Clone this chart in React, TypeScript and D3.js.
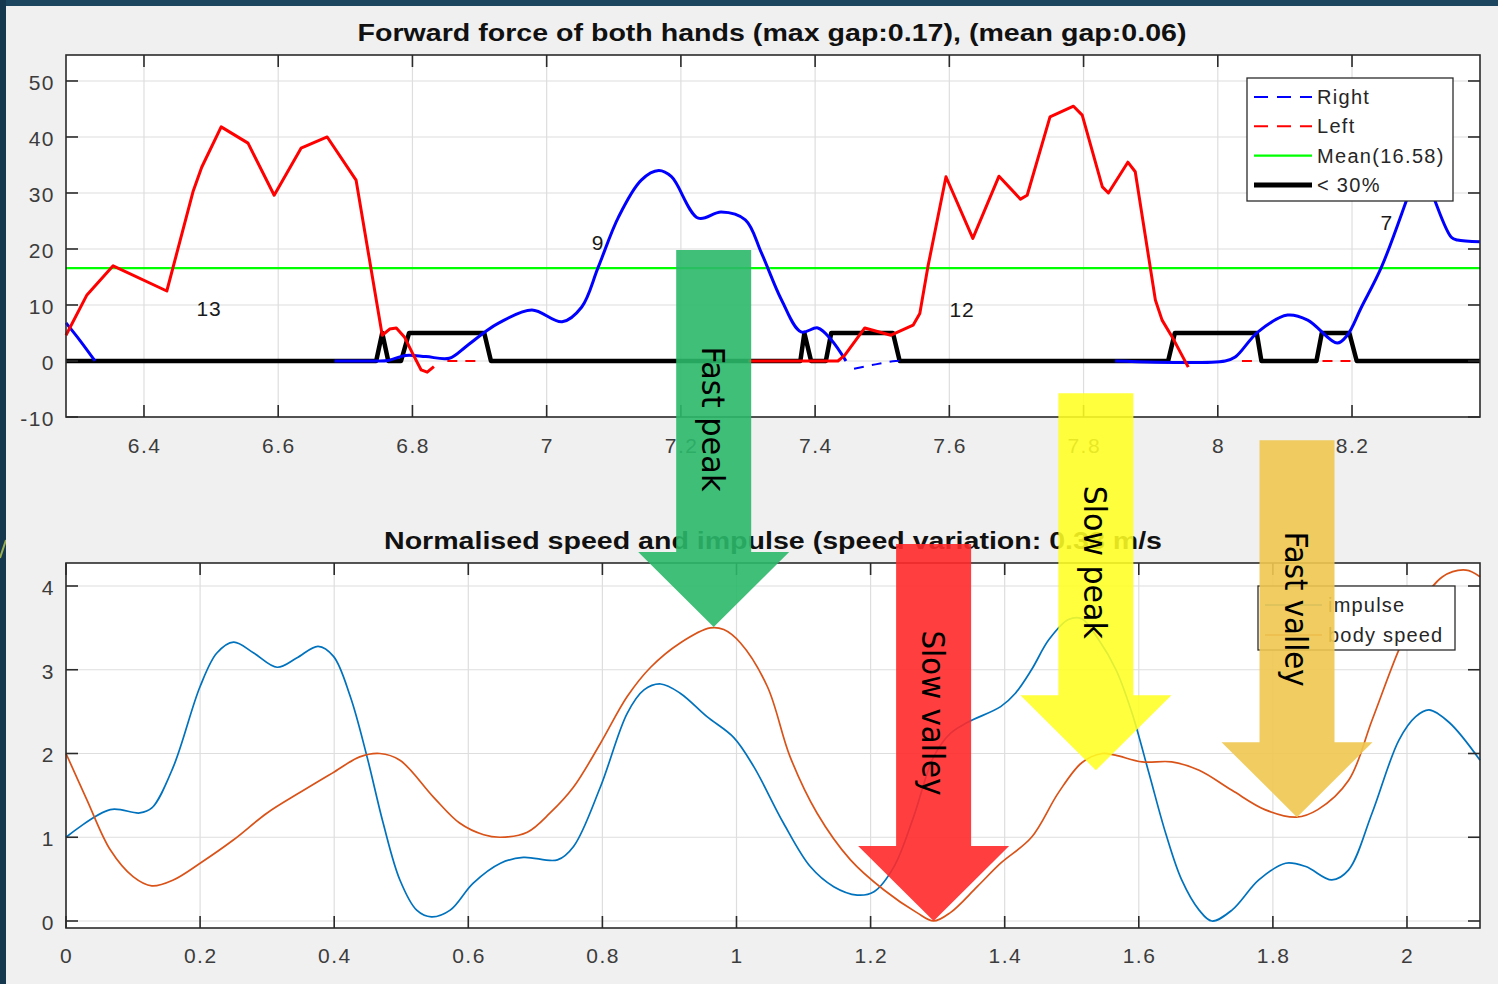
import React from 'react';
import * as d3 from 'd3';

type Pt = [number, number];

// ---------- Upper panel: forward force (N) vs time (s) ----------
const TOP_X_DOMAIN: Pt = [6.2838, 8.3907];
const TOP_Y_DOMAIN: Pt = [-10, 54.64];
const TOP_X_TICKS = [6.4, 6.6, 6.8, 7, 7.2, 7.4, 7.6, 7.8, 8, 8.2];
const TOP_Y_TICKS = [-10, 0, 10, 20, 30, 40, 50];
const MEAN_FORCE = 16.58;

// Right hand, solid stretches
const rightA: Pt[] = [[6.2838, 6.8], [6.305, 3.6], [6.327, 0]];
const rightB: Pt[] = [
  [6.684, 0], [6.746, 0], [6.764, 0.1], [6.79, 1], [6.82, 0.8], [6.855, 0.5], [6.88, 2.6],
  [6.907, 5.1], [6.929, 6.8], [6.978, 9.1], [7.023, 7], [7.052, 9.6], [7.077, 16.8],
  [7.107, 25.7], [7.141, 32.3], [7.167, 34], [7.186, 32.9], [7.226, 25.5], [7.26, 26.6],
  [7.296, 25.2], [7.32, 19.3], [7.35, 10.9], [7.379, 5.2], [7.404, 5.9], [7.424, 3.8], [7.446, 0],
];
const rightC: Pt[] = [
  [7.847, 0], [8.011, 0], [8.026, 0.7], [8.06, 5.2], [8.104, 8.2], [8.134, 7.3], [8.178, 3.2],
  [8.193, 4.6], [8.214, 9.6], [8.244, 16.8], [8.283, 29.3], [8.303, 36], [8.323, 28.8],
  [8.348, 22.1], [8.357, 21.6], [8.3907, 21.3],
];
// Right hand, dashed stretch
const rightDash: Pt[] = [[7.458, -1.4], [7.49, -0.6], [7.52, 0], [7.535, 0]];

// Left hand, solid stretches
const leftA: Pt[] = [
  [6.2838, 4.6], [6.315, 11.8], [6.354, 17], [6.434, 12.5], [6.473, 30.2], [6.486, 34.6],
  [6.515, 41.8], [6.555, 38.9], [6.594, 29.6], [6.634, 38], [6.673, 40], [6.716, 32.3],
  [6.755, 4.6], [6.766, 5.7], [6.776, 5.9], [6.788, 4.3], [6.8, 1.4], [6.813, -1.6],
  [6.822, -2], [6.832, -1],
];
const leftB: Pt[] = [
  [7.3, 0], [7.434, 0], [7.444, 1], [7.474, 5.9], [7.513, 4.6], [7.546, 6.4], [7.556, 8.5],
  [7.568, 16.8], [7.595, 32.9], [7.635, 21.9], [7.674, 33], [7.706, 28.9], [7.716, 29.6],
  [7.75, 43.6], [7.785, 45.5], [7.798, 43.9], [7.828, 31.1], [7.837, 30], [7.866, 35.5],
  [7.877, 33.8], [7.907, 10.9], [7.917, 7.3], [7.932, 4.3], [7.956, -1.1],
];
// Left hand, dashed stretches
const leftDashes: Pt[][] = [
  [[6.852, 0], [6.895, 0]],
  [[8.036, 0], [8.06, 0]],
  [[8.156, 0], [8.2, 0]],
];

// Below-30% indicator
const lowForce: Pt[] = [
  [6.2838, 0], [6.746, 0], [6.755, 5], [6.764, 0], [6.783, 0], [6.795, 5], [6.907, 5],
  [6.917, 0], [7.378, 0], [7.384, 5], [7.394, 0], [7.416, 0], [7.424, 5], [7.516, 5],
  [7.526, 0], [7.926, 0], [7.936, 5], [8.058, 5], [8.065, 0], [8.147, 0], [8.155, 5],
  [8.196, 5], [8.207, 0], [8.3907, 0],
];

// Stroke counts written beside each push
const strokeLabels = ['13', '9', '12', '7'];
const strokeLabelAt: Pt[] = [[6.497, 8.0], [7.0765, 19.8], [7.619, 7.86], [8.252, 23.4]];

// ---------- Lower panel: normalised speed and impulse ----------
const BOT_X_DOMAIN: Pt = [0, 2.1089];
const BOT_Y_DOMAIN: Pt = [-0.0836, 4.2746];
const BOT_X_TICKS = [0, 0.2, 0.4, 0.6, 0.8, 1, 1.2, 1.4, 1.6, 1.8, 2];
const BOT_Y_TICKS = [0, 1, 2, 3, 4];

const impulse: Pt[] = [
  [0, 1.0], [0.066, 1.33], [0.11, 1.29], [0.128, 1.35], [0.16, 1.84], [0.2, 2.8], [0.225, 3.2],
  [0.25, 3.33], [0.28, 3.2], [0.315, 3.03], [0.344, 3.14], [0.376, 3.28], [0.399, 3.16],
  [0.424, 2.68], [0.449, 1.96], [0.473, 1.17], [0.498, 0.49], [0.523, 0.13], [0.545, 0.05],
  [0.573, 0.13], [0.607, 0.45], [0.648, 0.69], [0.682, 0.76], [0.733, 0.73], [0.757, 0.89],
  [0.797, 1.6], [0.837, 2.48], [0.862, 2.76], [0.887, 2.83], [0.916, 2.72], [0.956, 2.44],
  [0.996, 2.19], [1.026, 1.84], [1.07, 1.17], [1.11, 0.65], [1.145, 0.41], [1.18, 0.31],
  [1.205, 0.35], [1.235, 0.65], [1.264, 1.24], [1.294, 1.96], [1.319, 2.24], [1.344, 2.37],
  [1.394, 2.56], [1.416, 2.72], [1.44, 3.0], [1.466, 3.36], [1.495, 3.6], [1.515, 3.61],
  [1.54, 3.36], [1.566, 3.0], [1.59, 2.48], [1.615, 1.77], [1.64, 1.05], [1.664, 0.49],
  [1.69, 0.13], [1.709, 0.0], [1.739, 0.13], [1.779, 0.49], [1.819, 0.69], [1.849, 0.65],
  [1.888, 0.49], [1.913, 0.61], [1.948, 1.29], [1.988, 2.16], [2.013, 2.44], [2.033, 2.52],
  [2.063, 2.37], [2.1089, 1.92],
];

const bodySpeed: Pt[] = [
  [0, 2.0], [0.031, 1.45], [0.066, 0.85], [0.1, 0.53], [0.128, 0.42], [0.16, 0.49], [0.2, 0.69],
  [0.25, 0.97], [0.3, 1.29], [0.35, 1.54], [0.4, 1.78], [0.438, 1.96], [0.468, 2.0],
  [0.498, 1.92], [0.548, 1.48], [0.587, 1.17], [0.623, 1.03], [0.648, 1.0], [0.688, 1.06],
  [0.722, 1.29], [0.757, 1.6], [0.797, 2.12], [0.837, 2.68], [0.872, 3.03], [0.916, 3.32],
  [0.961, 3.5], [0.981, 3.48], [1.006, 3.32], [1.046, 2.8], [1.08, 1.96], [1.12, 1.29],
  [1.17, 0.73], [1.22, 0.37], [1.269, 0.1], [1.294, 0.0], [1.319, 0.1], [1.359, 0.41],
  [1.394, 0.69], [1.44, 1.0], [1.48, 1.53], [1.515, 1.89], [1.545, 2.0], [1.565, 1.98],
  [1.605, 1.9], [1.649, 1.9], [1.69, 1.8], [1.739, 1.56], [1.788, 1.33], [1.835, 1.24],
  [1.867, 1.33], [1.913, 1.68], [1.948, 2.4], [1.988, 3.24], [2.018, 3.75], [2.053, 4.11],
  [2.088, 4.19], [2.1089, 4.11],
];

// Callouts pointing at features of the speed curve
const calloutLabels = ['Fast peak', 'Slow valley', 'Slow peak', 'Fast valley'];
const calloutTips: Pt[] = [[0.966, 3.51], [1.294, 0.0], [1.536, 1.8], [1.836, 1.24]];

// ---------- styling ----------
const FONT = "'Liberation Sans', Arial, Helvetica, sans-serif";
const CALLOUT_FONT = "'DejaVu Sans', 'Liberation Sans', sans-serif";
const AXIS_COLOR = '#2b2b2b';
const GRID_COLOR = '#dedede';
const TICK_TEXT = '#3c3c3c';
const calloutFill = ['#2bb86a', '#ff2a2a', '#ffff22', '#f0c850'];
const calloutOpacity = [0.9, 0.9, 0.88, 0.9];
const calloutTextLen = [145, 165, 153, 155];

const W = 1498;
const H = 984;

interface AxesProps {
  x: d3.ScaleLinear<number, number>;
  y: d3.ScaleLinear<number, number>;
  xTicks: number[];
  yTicks: number[];
  xLabelBaseline: number;
}

// White plot area with light grid
function AxesFrame({ x, y, xTicks, yTicks }: AxesProps) {
  const [x0, x1] = x.range();
  const [y0, y1] = y.range(); // y0 bottom, y1 top
  return (
    <g>
      <rect x={x0} y={y1} width={x1 - x0} height={y0 - y1} fill="#ffffff" />
      {xTicks.map((t) => (
        <line key={'gx' + t} x1={x(t)} x2={x(t)} y1={y1} y2={y0} stroke={GRID_COLOR} strokeWidth={1.2} />
      ))}
      {yTicks.map((t) => (
        <line key={'gy' + t} x1={x0} x2={x1} y1={y(t)} y2={y(t)} stroke={GRID_COLOR} strokeWidth={1.2} />
      ))}
    </g>
  );
}

// Box outline with inward ticks on all four sides, plus tick labels
function AxesBorder({ x, y, xTicks, yTicks, xLabelBaseline }: AxesProps) {
  const [x0, x1] = x.range();
  const [y0, y1] = y.range();
  const tl = 12;
  return (
    <g>
      <rect x={x0} y={y1} width={x1 - x0} height={y0 - y1} fill="none" stroke={AXIS_COLOR} strokeWidth={1.6} />
      {xTicks.map((t) => (
        <g key={'tx' + t}>
          <line x1={x(t)} x2={x(t)} y1={y0} y2={y0 - tl} stroke={AXIS_COLOR} strokeWidth={1.6} />
          <line x1={x(t)} x2={x(t)} y1={y1} y2={y1 + tl} stroke={AXIS_COLOR} strokeWidth={1.6} />
          <text
            x={x(t) + 0.7}
            y={xLabelBaseline}
            textAnchor="middle"
            fontFamily={FONT}
            fontSize={21}
            letterSpacing={1.5}
            fill={TICK_TEXT}
          >
            {String(t)}
          </text>
        </g>
      ))}
      {yTicks.map((t) => (
        <g key={'ty' + t}>
          <line x1={x0} x2={x0 + tl} y1={y(t)} y2={y(t)} stroke={AXIS_COLOR} strokeWidth={1.6} />
          <line x1={x1} x2={x1 - tl} y1={y(t)} y2={y(t)} stroke={AXIS_COLOR} strokeWidth={1.6} />
          <text
            x={x0 - 11}
            y={y(t) + 9}
            textAnchor="end"
            fontFamily={FONT}
            fontSize={21}
            letterSpacing={1.5}
            fill={TICK_TEXT}
          >
            {String(t)}
          </text>
        </g>
      ))}
    </g>
  );
}

export default function App() {
  // scales
  const xTop = d3.scaleLinear().domain(TOP_X_DOMAIN).range([66, 1480]);
  const yTop = d3.scaleLinear().domain(TOP_Y_DOMAIN).range([417, 55]);
  const xBot = d3.scaleLinear().domain(BOT_X_DOMAIN).range([66, 1480]);
  const yBot = d3.scaleLinear().domain(BOT_Y_DOMAIN).range([928, 563]);

  const topLinear = d3.line<Pt>().x((d) => xTop(d[0])).y((d) => yTop(d[1])).curve(d3.curveLinear);
  const topSmooth = d3
    .line<Pt>()
    .x((d) => xTop(d[0]))
    .y((d) => yTop(d[1]))
    .curve(d3.curveCatmullRom.alpha(0.5));
  const botSmooth = d3
    .line<Pt>()
    .x((d) => xBot(d[0]))
    .y((d) => yBot(d[1]))
    .curve(d3.curveCatmullRom.alpha(0.5));

  const dash = '14,9';

  // callout arrow geometry (pixels)
  const ARROW_LEN = 377;
  const SHAFT_W = 75;
  const HEAD_W = 151;
  const HEAD_LEN = 75;
  const LABEL_UP = 208;

  const arrowPath = (tx: number, ty: number) => {
    const p = d3.path();
    p.moveTo(tx - SHAFT_W / 2, ty - ARROW_LEN);
    p.lineTo(tx + SHAFT_W / 2, ty - ARROW_LEN);
    p.lineTo(tx + SHAFT_W / 2, ty - HEAD_LEN);
    p.lineTo(tx + HEAD_W / 2, ty - HEAD_LEN);
    p.lineTo(tx, ty);
    p.lineTo(tx - HEAD_W / 2, ty - HEAD_LEN);
    p.lineTo(tx - SHAFT_W / 2, ty - HEAD_LEN);
    p.closePath();
    return p.toString();
  };

  const topLegend = [
    { label: 'Right', color: '#0000ff', width: 2, dash },
    { label: 'Left', color: '#ff0000', width: 2, dash },
    { label: 'Mean(' + MEAN_FORCE.toFixed(2) + ')', color: '#00ff00', width: 2.2, dash: undefined },
    { label: '< 30%', color: '#000000', width: 5, dash: undefined },
  ];
  const botLegend = [
    { label: 'impulse', color: '#0072bd' },
    { label: 'body speed', color: '#d95319' },
  ];

  const topProps = { x: xTop, y: yTop, xTicks: TOP_X_TICKS, yTicks: TOP_Y_TICKS, xLabelBaseline: 453 };
  const botProps = { x: xBot, y: yBot, xTicks: BOT_X_TICKS, yTicks: BOT_Y_TICKS, xLabelBaseline: 963 };

  return (
    <svg
      width={W}
      height={H}
      viewBox={`0 0 ${W} ${H}`}
      style={{ position: 'absolute', left: 0, top: 0, display: 'block' }}
    >
      {/* slide background and figure panel */}
      <rect x={0} y={0} width={W} height={H} fill="#1c4660" />
      <rect x={0} y={0} width={6} height={H} fill="#15384f" />
      <line x1={0} y1={558} x2={6} y2={540} stroke="#9bb050" strokeWidth={2} />
      <rect x={6} y={6} width={W - 6} height={H - 6} fill="#f0f0f0" />

      {/* ---------- upper axes ---------- */}
      <AxesFrame {...topProps} />
      <g>
        <path d={topLinear(lowForce) || ''} fill="none" stroke="#000" strokeWidth={4.5} strokeLinejoin="round" />
        <line
          x1={xTop(TOP_X_DOMAIN[0])}
          x2={xTop(TOP_X_DOMAIN[1])}
          y1={yTop(MEAN_FORCE)}
          y2={yTop(MEAN_FORCE)}
          stroke="#00ff00"
          strokeWidth={2.4}
        />
        {[rightA, rightB, rightC].map((s, i) => (
          <path key={'r' + i} d={topSmooth(s) || ''} fill="none" stroke="#0000ff" strokeWidth={3} strokeLinejoin="round" />
        ))}
        <path d={topSmooth(rightDash) || ''} fill="none" stroke="#0000ff" strokeWidth={2} strokeDasharray="10,8" />
        {[leftA, leftB].map((s, i) => (
          <path key={'l' + i} d={topLinear(s) || ''} fill="none" stroke="#ff0000" strokeWidth={3} strokeLinejoin="round" />
        ))}
        {leftDashes.map((s, i) => (
          <path key={'ld' + i} d={topLinear(s) || ''} fill="none" stroke="#ff0000" strokeWidth={2} strokeDasharray="10,8" />
        ))}
        {strokeLabels.map((s, i) => (
          <text
            key={'sl' + i}
            x={xTop(strokeLabelAt[i][0])}
            y={yTop(strokeLabelAt[i][1])}
            textAnchor="middle"
            fontFamily={FONT}
            fontSize={21}
            letterSpacing={1}
            fill="#1a1a1a"
          >
            {s}
          </text>
        ))}
      </g>
      <AxesBorder {...topProps} />
      <text
        x={772}
        y={41}
        textAnchor="middle"
        fontFamily={FONT}
        fontWeight="bold"
        fontSize={23}
        fill="#111"
        textLength={829}
        lengthAdjust="spacingAndGlyphs"
      >
        Forward force of both hands (max gap:0.17), (mean gap:0.06)
      </text>

      {/* upper legend */}
      <g>
        <rect x={1247} y={78} width={206} height={123} fill="#fff" stroke={AXIS_COLOR} strokeWidth={1.3} />
        {topLegend.map((e, i) => {
          const cy = 97 + i * 29.3;
          return (
            <g key={'tl' + e.label}>
              <line x1={1254} x2={1312} y1={cy} y2={cy} stroke={e.color} strokeWidth={e.width} strokeDasharray={e.dash} />
              <text x={1317} y={cy + 7} fontFamily={FONT} fontSize={20} letterSpacing={1.3} fill="#262626">
                {e.label}
              </text>
            </g>
          );
        })}
      </g>

      {/* ---------- lower axes ---------- */}
      <AxesFrame {...botProps} />
      <path d={botSmooth(impulse) || ''} fill="none" stroke="#0072bd" strokeWidth={1.7} />
      <path d={botSmooth(bodySpeed) || ''} fill="none" stroke="#d95319" strokeWidth={1.7} />
      <AxesBorder {...botProps} />
      <text
        x={773}
        y={549}
        textAnchor="middle"
        fontFamily={FONT}
        fontWeight="bold"
        fontSize={23}
        fill="#111"
        textLength={778}
        lengthAdjust="spacingAndGlyphs"
      >
        Normalised speed and impulse (speed variation: 0.38 m/s
      </text>

      {/* lower legend */}
      <g>
        <rect x={1258} y={586} width={197} height={64} fill="#fff" stroke={AXIS_COLOR} strokeWidth={1.3} />
        {botLegend.map((e, i) => {
          const cy = 605 + i * 30;
          return (
            <g key={'bl' + e.label}>
              <line x1={1265} x2={1322} y1={cy} y2={cy} stroke={e.color} strokeWidth={1.5} />
              <text x={1328} y={cy + 7} fontFamily={FONT} fontSize={20} letterSpacing={1.2} fill="#262626">
                {e.label}
              </text>
            </g>
          );
        })}
      </g>

      {/* ---------- callout arrows ---------- */}
      {calloutLabels.map((label, i) => {
        const tx = xBot(calloutTips[i][0]);
        const ty = yBot(calloutTips[i][1]);
        return (
          <g key={'co' + label}>
            <path d={arrowPath(tx, ty)} fill={calloutFill[i]} fillOpacity={calloutOpacity[i]} />
            <g transform={`translate(${tx},${ty - LABEL_UP}) rotate(90)`}>
              <text
                x={0}
                y={12}
                textAnchor="middle"
                fontFamily={CALLOUT_FONT}
                fontSize={32}
                fill="#000"
                textLength={calloutTextLen[i]}
                lengthAdjust="spacingAndGlyphs"
              >
                {label}
              </text>
            </g>
          </g>
        );
      })}
    </svg>
  );
}
